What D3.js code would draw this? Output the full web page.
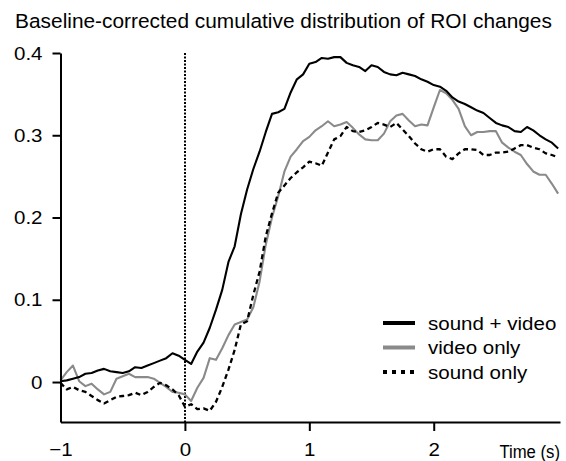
<!DOCTYPE html>
<html>
<head>
<meta charset="utf-8">
<script src="https://cdn.jsdelivr.net/npm/d3@7"></script>
<style>
  html, body { margin: 0; padding: 0; background: #fff; }
  svg { display: block; }
</style>
</head>
<body>
<div id="chart"></div>
<script>
// sample grid: -1 s to 3 s every 0.05 s
const timeStart = -1;
const timeStep = 0.05;

const soundVideo = [
  0.001, 0.002, 0.004, 0.006, 0.010, 0.011, 0.014, 0.016, 0.013, 0.012,
  0.011, 0.013, 0.018, 0.017, 0.020, 0.023, 0.026, 0.029, 0.035, 0.032,
  0.027, 0.022, 0.037, 0.048, 0.066, 0.088, 0.112, 0.146, 0.165, 0.204,
  0.234, 0.259, 0.280, 0.304, 0.326, 0.328, 0.332, 0.352, 0.368, 0.374,
  0.387, 0.389, 0.394, 0.393, 0.395, 0.395, 0.388, 0.385, 0.383, 0.378,
  0.385, 0.383, 0.377, 0.374, 0.373, 0.376, 0.374, 0.372, 0.368, 0.365,
  0.361, 0.359, 0.354, 0.346, 0.341, 0.338, 0.334, 0.330, 0.327, 0.321,
  0.315, 0.312, 0.310, 0.305, 0.304, 0.310, 0.306, 0.300, 0.295, 0.291,
  0.284,
];

const videoOnly = [
  0.002, 0.012, 0.020, 0.001, -0.005, -0.002, -0.009, -0.015, -0.012, 0.004,
  0.007, 0.010, 0.006, 0.006, 0.006, 0.004, -0.001, -0.006, -0.012, -0.013,
  -0.015, -0.023, -0.007, 0.005, 0.029, 0.027, 0.041, 0.057, 0.070, 0.073,
  0.076, 0.091, 0.122, 0.167, 0.200, 0.226, 0.256, 0.274, 0.283, 0.293,
  0.298, 0.306, 0.311, 0.317, 0.311, 0.313, 0.316, 0.309, 0.301, 0.295,
  0.294, 0.294, 0.302, 0.317, 0.324, 0.326, 0.318, 0.311, 0.313, 0.312,
  0.334, 0.355, 0.351, 0.343, 0.332, 0.311, 0.300, 0.304, 0.304, 0.305,
  0.305, 0.291, 0.285, 0.280, 0.276, 0.265, 0.256, 0.252, 0.252, 0.241,
  0.229,
];

const soundOnly = [
  -0.001, -0.009, -0.006, -0.010, -0.012, -0.017, -0.022, -0.026, -0.022, -0.018,
  -0.017, -0.016, -0.013, -0.016, -0.012, -0.006, -0.001, -0.004, -0.009, -0.016,
  -0.030, -0.027, -0.033, -0.032, -0.035, -0.024, -0.006, 0.015, 0.039, 0.070,
  0.074, 0.106, 0.134, 0.177, 0.205, 0.230, 0.239, 0.248, 0.255, 0.261,
  0.268, 0.266, 0.263, 0.279, 0.295, 0.299, 0.310, 0.305, 0.304, 0.306,
  0.310, 0.315, 0.313, 0.310, 0.315, 0.307, 0.299, 0.290, 0.283, 0.280,
  0.283, 0.283, 0.274, 0.271, 0.278, 0.283, 0.283, 0.282, 0.276, 0.276,
  0.279, 0.279, 0.280, 0.284, 0.288, 0.288, 0.285, 0.283, 0.278, 0.276,
  0.273,
];

const xTicks = [-1, 0, 1, 2];
const yTicks = [0, 0.1, 0.2, 0.3, 0.4];
const seriesNames = ['sound + video', 'video only', 'sound only'];

const width = 566;
const height = 461;
const font = '"Liberation Sans", Arial, sans-serif';
const stretch = 1.08; // glyphs in the original are a bit wide

const x = d3.scaleLinear().domain([-1, 3.015]).range([60.5, 560]);
const y = d3.scaleLinear().domain([-0.0486, 0.4]).range([422, 53]);

const svg = d3.select('#chart')
  .append('svg')
  .attr('width', width)
  .attr('height', height)
  .attr('font-family', font);

const series = [
  { name: seriesNames[1], values: videoOnly, color: '#8a8a8a', dash: null },
  { name: seriesNames[2], values: soundOnly, color: '#000', dash: '5,3.5' },
  { name: seriesNames[0], values: soundVideo, color: '#000', dash: null },
];

const line = d3.line()
  .x((d, i) => x(timeStart + i * timeStep))
  .y((d) => y(d));

// stimulus onset
const onsetX = Math.round(x(0));
svg.append('line')
  .attr('x1', onsetX).attr('x2', onsetX)
  .attr('y1', y(0.4)).attr('y2', y.range()[0])
  .attr('stroke', '#000')
  .attr('stroke-width', 2)
  .attr('stroke-dasharray', '2,1.5');

svg.append('g')
  .selectAll('path')
  .data(series)
  .join('path')
  .attr('fill', 'none')
  .attr('stroke', (d) => d.color)
  .attr('stroke-width', (d) => (d.dash ? 2.3 : 2.1))
  .attr('stroke-dasharray', (d) => d.dash)
  .attr('stroke-linejoin', 'round')
  .attr('d', (d) => line(d.values));

// axes
const yAxis = svg.append('g')
  .attr('transform', `translate(${x(-1)},0)`)
  .call(d3.axisLeft(y).tickValues(yTicks).tickSize(8).tickSizeOuter(0).tickPadding(10)
    .tickFormat((d) => (d === 0 ? '0' : d3.format('.1f')(d))));

const xAxis = svg.append('g')
  .attr('transform', `translate(0,${y.range()[0]})`)
  .call(d3.axisBottom(x).tickValues(xTicks).tickSize(9).tickSizeOuter(0).tickPadding(12)
    .tickFormat(d3.format('d')));

[yAxis, xAxis].forEach((g) => {
  g.select('.domain').attr('stroke-width', 2).attr('stroke', '#000');
  g.selectAll('.tick line').attr('stroke-width', 2).attr('stroke', '#000');
  g.selectAll('.tick text')
    .attr('font-size', 19)
    .attr('font-family', font)
    .attr('fill', '#000');
});

// no tick mark at the corner
xAxis.selectAll('.tick').filter((d) => d === -1).select('line').remove();

yAxis.selectAll('.tick text')
  .attr('transform', `translate(-18,0) scale(${stretch},1)`)
  .attr('x', 0);
xAxis.selectAll('.tick text')
  .attr('transform', `translate(0,21) scale(${stretch},1)`)
  .attr('y', 0)
  .attr('dy', '0.71em');

const stretchedText = (px, py, txt, size, sx, anchor) => svg.append('text')
  .attr('transform', `translate(${px},${py}) scale(${sx},1)`)
  .attr('font-size', size)
  .attr('text-anchor', anchor)
  .attr('fill', '#000')
  .text(txt);

stretchedText(283.5, 27.5, 'Baseline-corrected cumulative distribution of ROI changes', 19.5, 1.07, 'middle');
stretchedText(560, 457.5, 'Time (s)', 19, 0.88, 'end');

// legend
const legend = svg.append('g')
  .selectAll('g')
  .data([series[2], series[0], series[1]])
  .join('g')
  .attr('transform', (d, i) => `translate(383,${323 + i * 24.5})`);

legend.append('line')
  .attr('x1', 0).attr('x2', 32)
  .attr('stroke', (d) => d.color)
  .attr('stroke-width', 4)
  .attr('stroke-dasharray', (d) => (d.dash ? '4,5' : null));

legend.append('text')
  .attr('transform', `translate(45,6.6) scale(${stretch},1)`)
  .attr('font-size', 19)
  .attr('fill', '#000')
  .text((d) => d.name);
</script>
</body>
</html>
